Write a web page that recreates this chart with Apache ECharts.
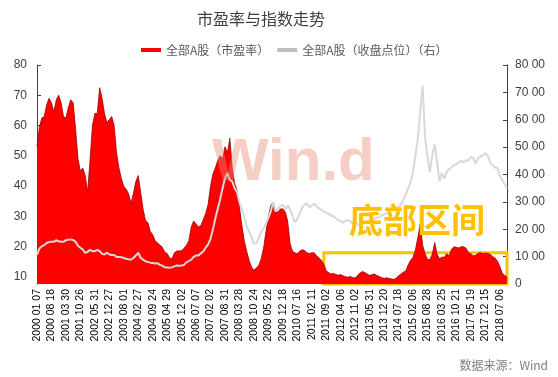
<!DOCTYPE html>
<html>
<head>
<meta charset="utf-8">
<script src="https://cdn.jsdelivr.net/npm/echarts@6/dist/echarts.min.js"></script>
<style>
html,body{margin:0;padding:0;background:#fff;}
#main{width:558px;height:377px;}
</style>
</head>
<body>
<div id="main"></div>
<script>
// 横轴刻度（每6个点显示一个）
var tickLabels = ['2000 01 07','2000 08 18','2001 03 30','2001 10 26','2002 05 31','2002 12 27','2003 08 01','2004 02 27','2004 09 24','2005 04 29','2005 12 02','2006 07 07','2007 02 02','2007 08 31','2008 03 28','2008 10 24','2009 05 22','2009 12 18','2010 07 16','2011 02 11','2011 09 02','2012 04 06','2012 11 02','2013 05 31','2013 12 20','2014 07 18','2015 02 06','2015 08 28','2016 03 25','2016 10 21','2017 05 19','2017 12 15','2018 07 06'];

// 全部A股 市盈率
var peValues = [53,59.5,62.5,63,66.8,69,67.5,64.5,68.5,70,67.5,63,62.5,66,68.5,67.5,59,49,45,46,
43.5,38,48.5,60,64,64,72.5,69,64,61,62,63,60,51,46,42.5,40,39,37.5,34.3,
37.6,41.5,43.5,38,32.5,28.7,28,25,24,22,21.3,20.5,19.8,18.2,17.8,16.3,16,18,18.6,18.6,
18.7,19.5,20.5,22,26.5,28.5,27.5,26.5,27,29,31,34,40,44,46,48.5,50,49,53,51,
55.8,46,41,38.5,33,27,22,18.5,15.5,13.3,12.2,13,13.8,16,19.5,25,30,33.5,34.8,31.5,
31.5,32.5,32.5,31.5,28.5,21,18.5,18,17.7,18.5,19,18.8,18,17.8,18,18,17,16.3,15.5,14.2,
12,11.5,11,11.2,10.8,10.6,10.8,10.4,10.1,9.9,10.2,9.8,9.7,10.5,11.3,11.8,11.5,11,10.5,10.8,
11,10.5,10.2,9.8,9.5,9.8,9.5,9.4,9.2,9.6,10.4,11,11.6,12,14,15.5,16.5,18.9,23,27.5,
20.5,17.7,15.8,15.8,17.5,21.4,17.5,16,16.6,16.5,17.7,17,19.2,20,19.8,19.6,20,20,19.5,18.1,
17.7,17,17.2,17.8,18.1,17.7,17.9,17.8,17.5,16.8,16.3,15.3,13.5,11.3,10.5,10];

// 全部A股 收盘点位（右轴）
var closeValues = [1060,1300,1380,1420,1500,1530,1540,1540,1600,1560,1540,1540,1600,1620,1630,1610,1540,1400,1320,1260,
1140,1170,1250,1200,1200,1250,1200,1100,1080,1140,1080,1060,1060,990,990,980,950,920,900,890,
950,1040,1140,960,890,830,800,780,770,750,760,700,670,610,600,590,615,645,675,665,
675,700,790,840,890,990,1045,1045,1120,1185,1330,1450,1650,2000,2400,2750,3100,3500,3870,4050,
3800,3750,3500,3350,2980,2730,2450,2100,1920,1700,1460,1500,1680,1890,2030,2200,2420,2650,3000,2650,
2750,2850,2900,2720,2880,2720,2500,2250,2380,2580,2780,2900,2950,2800,2870,2930,2850,2760,2700,2650,
2600,2560,2500,2470,2400,2330,2300,2240,2320,2330,2290,2200,2220,2200,2100,2200,2250,2280,2300,2350,
2380,2420,2450,2500,2550,2580,2650,2700,2720,2780,2820,2900,3080,3250,3500,3700,4100,4700,5300,6300,
7250,5350,4650,4100,4700,5100,4450,3750,4050,3850,4100,4200,4250,4350,4380,4450,4500,4450,4520,4500,
4650,4600,4400,4600,4650,4700,4780,4700,4430,4350,4250,4250,3950,3800,3650,3500];

var leftTicks = [10,20,30,40,50,60,70,80];
var boxStart = 119; // 底部区间起点
var boxTop = 18;

var categories = [];
for (var i = 0; i < peValues.length; i++) {
    categories.push(String(i));
}
var peMin = 7.7;

var myChart = echarts.init(document.getElementById('main'));
var option = {
    backgroundColor: '#fff',
    animation: false,
    textStyle: {fontFamily: '"Noto Sans CJK SC", sans-serif'},
    title: {
        text: '市盈率与指数走势',
        left: 192,
        top: 6,
        textStyle: {fontSize: 16, fontWeight: 'normal', color: '#404040'}
    },
    legend: {
        left: 136,
        top: 39,
        itemWidth: 20,
        itemHeight: 4,
        itemGap: 8,
        textStyle: {fontSize: 12, color: '#595959'},
        data: [
            {name: '全部A股（市盈率）', icon: 'rect', itemStyle: {color: '#ff0000'}},
            {name: '全部A股（收盘点位）（右）', icon: 'rect', itemStyle: {color: '#bfbfbf'}}
        ]
    },
    grid: {left: 37, right: 51, top: 65, bottom: 93},
    xAxis: {
        type: 'category',
        boundaryGap: false,
        data: categories,
        axisLine: {show: false},
        axisTick: {show: false},
        axisLabel: {
            interval: 5,
            rotate: 90,
            margin: 5,
            fontSize: 10.5,
            color: '#000',
            fontFamily: 'Liberation Sans, Arial',
            formatter: function (v, idx) {
                return tickLabels[idx / 6] || '';
            }
        },
        splitLine: {show: false}
    },
    yAxis: [
        {
            type: 'value',
            min: peMin,
            max: 80,
            axisLine: {show: true, lineStyle: {color: '#404040'}},
            axisTick: {show: true, inside: true, length: 4, customValues: leftTicks, lineStyle: {color: '#404040'}},
            axisLabel: {customValues: leftTicks, fontSize: 12, color: '#404040', margin: 10, fontFamily: 'Liberation Sans, Arial'},
            splitLine: {show: false}
        },
        {
            type: 'value',
            min: 0,
            max: 8000,
            interval: 1000,
            position: 'right',
            axisLine: {show: true, lineStyle: {color: '#404040'}},
            axisTick: {show: true, inside: true, length: 4, lineStyle: {color: '#404040'}},
            axisLabel: {
                fontSize: 12, color: '#404040', margin: 8, fontFamily: 'Liberation Sans, Arial',
                formatter: function (v) {
                    return v === 0 ? '0' : (v / 100) + ' 00';
                }
            },
            splitLine: {show: false}
        }
    ],
    series: [
        {
            name: '全部A股（市盈率）',
            type: 'line',
            yAxisIndex: 0,
            data: peValues,
            symbol: 'none',
            lineStyle: {color: '#9a0000', width: 0.8},
            itemStyle: {color: '#ff0000'},
            areaStyle: {color: '#ff0000', opacity: 1},
            markArea: {
                silent: true,
                itemStyle: {color: 'rgba(0,0,0,0)', borderColor: '#ffc000', borderWidth: 3},
                data: [[
                    {xAxis: String(boxStart), yAxis: peMin},
                    {xAxis: String(peValues.length - 1), yAxis: boxTop}
                ]]
            },
            z: 2
        },
        {
            name: '全部A股（收盘点位）（右）',
            type: 'line',
            yAxisIndex: 1,
            data: closeValues,
            symbol: 'none',
            lineStyle: {color: '#d8d8d8', width: 2},
            itemStyle: {color: '#bfbfbf'},
            z: 3
        }
    ],
    graphic: [
        {
            type: 'text',
            left: 212,
            top: 133,
            z: 10,
            style: {
                text: 'Win.d',
                font: 'bold 60px "Liberation Sans", Arial, sans-serif',
                fill: 'rgba(230,140,120,0.42)'
            }
        },
        {
            type: 'text',
            left: 349,
            top: 203,
            z: 10,
            style: {
                text: '底部区间',
                font: 'bold 34px "Noto Sans CJK SC", sans-serif',
                fill: '#ffc000'
            }
        },
        {
            type: 'text',
            right: 10,
            bottom: 6,
            style: {
                text: '数据来源：Wind',
                font: '12px "Noto Sans CJK SC", sans-serif',
                fill: '#7f7f7f'
            }
        }
    ]
};
myChart.setOption(option);
</script>
</body>
</html>
